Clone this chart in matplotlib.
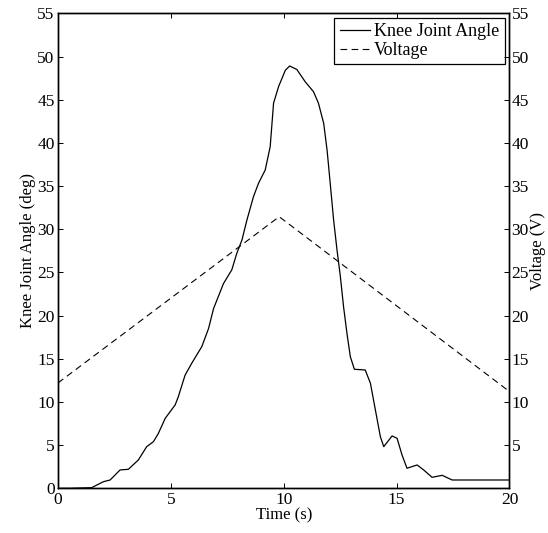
import matplotlib
matplotlib.use("Agg")
from matplotlib import pyplot as plt

plt.rcParams['font.family'] = ['Liberation Serif', 'DejaVu Serif']

# knee joint angle (deg)
t_knee = [0, 0.53, 1.49, 2.01, 2.31, 2.75, 3.12, 3.56, 3.93, 4.23, 4.45, 4.75,
          5.19, 5.33, 5.63, 5.93, 6.37, 6.67, 6.89, 7.33, 7.70, 7.92, 8.15,
          8.37, 8.66, 8.88, 9.18, 9.40, 9.55, 9.77, 10.07, 10.26, 10.58,
          10.95, 11.32, 11.54, 11.77, 11.92, 12.06, 12.21, 12.36, 12.51,
          12.65, 12.80, 12.95, 13.13, 13.61, 13.84, 14.06, 14.28, 14.43,
          14.80, 15.02, 15.24, 15.46, 15.91, 16.20, 16.57, 17.02, 17.46, 20]
knee = [0, 0, 0.07, 0.76, 0.96, 2.12, 2.2, 3.28, 4.82, 5.4, 6.37, 8.1,
        9.65, 10.6, 13.1, 14.5, 16.4, 18.5, 20.8, 23.7, 25.3, 27.2, 28.75,
        31.07, 33.77, 35.3, 36.86, 39.55, 44.6, 46.5, 48.4, 48.9, 48.5,
        47.08, 45.92, 44.58, 42.26, 39.17, 35.3, 31.07, 27.6, 24.5,
        21.03, 17.95, 15.24, 13.78, 13.7, 12.16, 9.07, 5.98, 4.82,
        6.06, 5.79, 3.86, 2.32, 2.7, 2.12, 1.27, 1.5, 0.96, 0.96]

# voltage (V)
t_volt = [0, 9.8, 20]
volt = [12.2, 31.45, 11.2]

fig = plt.figure(figsize=(5.48, 5.33), dpi=100)
ax = fig.add_axes([0.1058, 0.0839, 0.8239, 0.8911])
ax2 = ax.twinx()

l1, = ax.plot(t_knee, knee, color='black', lw=0.9, label='Knee Joint Angle')
l2, = ax2.plot(t_volt, volt, color='black', lw=0.8, dashes=(6, 4), label='Voltage')

ax.set_xlim(0, 20)
ax.set_ylim(0, 55)
ax2.set_ylim(0, 55)
ax.set_xticks([0, 5, 10, 15, 20])
ax.set_yticks(range(0, 56, 5))
ax2.set_yticks(range(5, 56, 5))

ax.tick_params(direction='in', top=True, right=False, labelsize=12.5,
               length=3.6, width=0.7, pad=2.5)
ax2.tick_params(direction='in', labelsize=12.5, length=3.6, width=0.7, pad=1.5)
for a in (ax, ax2):
    for s in a.spines.values():
        s.set_linewidth(1.0)

ax.set_xlabel('Time (s)', fontsize=12, labelpad=0)
ax.set_ylabel('Knee Joint Angle (deg)', fontsize=12, labelpad=1)
ax2.set_ylabel('Voltage (V)', fontsize=12, labelpad=0.5)

leg = ax.legend(handles=[l1, l2], loc='upper right', fontsize=13, fancybox=False,
                edgecolor='black', framealpha=1, handlelength=1.66,
                borderpad=0.3, labelspacing=0.1, handletextpad=0.25,
                borderaxespad=0.25)
leg.get_frame().set_linewidth(0.9)
leg.set_zorder(5)

fig.savefig('out.png', dpi=100)
